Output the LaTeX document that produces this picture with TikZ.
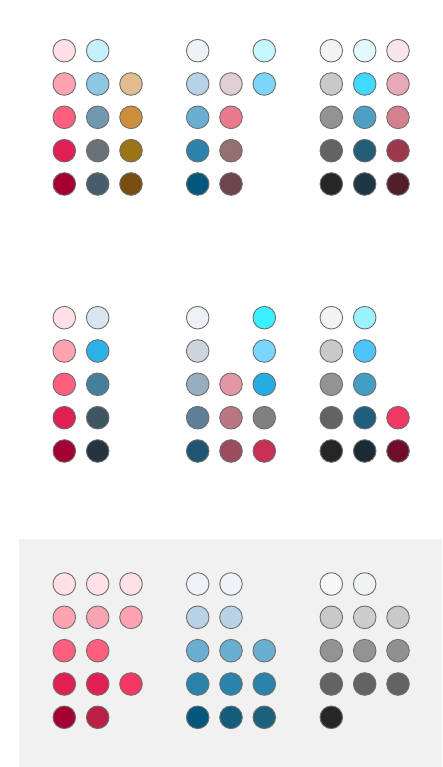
\documentclass[tikz,border=0pt]{standalone}
\usetikzlibrary{positioning}
\tikzset{
  dotc/.style={circle, draw=dotline, line width=0.9pt, minimum size=22.6pt, inner sep=0pt},
}
\definecolor{dotline}{HTML}{6E6E6E}
\definecolor{panelbg}{HTML}{F1F1F1}
\newcommand\D[4]{\definecolor{col#1}{HTML}{#4}\node[dotc, fill=col#1] (#1) at (#2,#3) {};}
\begin{document}
\begin{tikzpicture}[x=1pt,y=-1pt]
\useasboundingbox (0,0) rectangle (442,767);
\fill[panelbg] (19,539) rectangle (442,767);
% ---------- Panel 1 ----------
% group 1
\D{a11}{64.3}{50.7}{FFE0E6}\D{a12}{64.3}{84}{FFA3B1}\D{a13}{64.3}{117.3}{FF5E7E}\D{a14}{64.3}{150.7}{E01F52}\D{a15}{64.3}{184}{A50034}
\D{a21}{97.7}{50.7}{C7F0FF}\D{a22}{97.7}{84}{8CC7E6}\D{a23}{97.7}{117.3}{7199AE}\D{a24}{97.7}{150.7}{6A7178}\D{a25}{97.7}{184}{475D6B}
\D{a32}{131}{84}{E0BC8E}\D{a33}{131}{117.3}{CD8F3D}\D{a34}{131}{150.7}{9A7415}\D{a35}{131}{184}{7A4D10}
% group 2
\D{b11}{197.7}{50.7}{EEF3F8}\D{b12}{197.7}{84}{B8D3E6}\D{b13}{197.7}{117.3}{6AAFD2}\D{b14}{197.7}{150.7}{2D82AB}\D{b15}{197.7}{184}{04577A}
\D{b22}{231}{84}{E0CFD3}\D{b23}{231}{117.3}{EC7A8E}\D{b24}{231}{150.7}{947073}\D{b25}{231}{184}{6E454A}
\D{b31}{264.3}{50.7}{C7F7FE}\D{b32}{264.3}{84}{7CD7FB}
% group 3
\D{c11}{331.3}{50.7}{F3F3F3}\D{c12}{331.3}{84}{C9C9C9}\D{c13}{331.3}{117.3}{939393}\D{c14}{331.3}{150.7}{636363}\D{c15}{331.3}{184}{262626}
\D{c21}{364.7}{50.7}{E2F9FF}\D{c22}{364.7}{84}{40DAFF}\D{c23}{364.7}{117.3}{4F9EC4}\D{c24}{364.7}{150.7}{245D77}\D{c25}{364.7}{184}{1D3744}
\D{c31}{398}{50.7}{F8E6EA}\D{c32}{398}{84}{E7A9B5}\D{c33}{398}{117.3}{D4808E}\D{c34}{398}{150.7}{9C384C}\D{c35}{398}{184}{521F28}
% ---------- Panel 2 ----------
\D{d11}{64.3}{317.7}{FFE0E6}\D{d12}{64.3}{351}{FFA3B1}\D{d13}{64.3}{384.3}{FF5E7E}\D{d14}{64.3}{417.7}{E01F52}\D{d15}{64.3}{451}{A50034}
\D{d21}{97.7}{317.7}{D9E6F1}\D{d22}{97.7}{351}{2DB2E8}\D{d23}{97.7}{384.3}{457F9C}\D{d24}{97.7}{417.7}{3E5562}\D{d25}{97.7}{451}{26343E}
\D{e11}{197.7}{317.7}{EDF1F5}\D{e12}{197.7}{351}{CCD4DD}\D{e13}{197.7}{384.3}{98ADBE}\D{e14}{197.7}{417.7}{5E7F95}\D{e15}{197.7}{451}{1F5573}
\D{e23}{231}{384.3}{E397A3}\D{e24}{231}{417.7}{BA7782}\D{e25}{231}{451}{9A4E5D}
\D{e31}{264.3}{317.7}{39F1FF}\D{e32}{264.3}{351}{79D6FF}\D{e33}{264.3}{384.3}{24ACE3}\D{e34}{264.3}{417.7}{808080}\D{e35}{264.3}{451}{C83056}
\D{f11}{331.3}{317.7}{F3F3F3}\D{f12}{331.3}{351}{C9C9C9}\D{f13}{331.3}{384.3}{939393}\D{f14}{331.3}{417.7}{636363}\D{f15}{331.3}{451}{262626}
\D{f21}{364.7}{317.7}{9AF4FF}\D{f22}{364.7}{351}{4CC6FA}\D{f23}{364.7}{384.3}{449DC5}\D{f24}{364.7}{417.7}{1F5E7C}\D{f25}{364.7}{451}{1B2B35}
\D{f34}{398}{417.7}{F03864}\D{f35}{398}{451}{700D28}
% ---------- Panel 3 ----------
\D{g11}{64.3}{584}{FFE0E6}\D{g12}{64.3}{617.3}{FFA3B1}\D{g13}{64.3}{650.7}{FF5E7E}\D{g14}{64.3}{684}{E01F52}\D{g15}{64.3}{717.3}{A50034}
\D{g21}{97.7}{584}{FFE2E8}\D{g22}{97.7}{617.3}{F7A5B2}\D{g23}{97.7}{650.7}{FF5E7E}\D{g24}{97.7}{684}{E01F52}\D{g25}{97.7}{717.3}{BA1F44}
\D{g31}{131}{584}{FBE1E5}\D{g32}{131}{617.3}{FFA2B2}\D{g34}{131}{684}{F43863}
\D{h11}{197.7}{584}{EDF3F8}\D{h12}{197.7}{617.3}{B8D3E6}\D{h13}{197.7}{650.7}{6AAFD2}\D{h14}{197.7}{684}{2A83AB}\D{h15}{197.7}{717.3}{04577A}
\D{h21}{231}{584}{EDF3F8}\D{h22}{231}{617.3}{B8D3E6}\D{h23}{231}{650.7}{6AAFD2}\D{h24}{231}{684}{2A83AB}\D{h25}{231}{717.3}{145C7B}
\D{h33}{264.3}{650.7}{6AAFD2}\D{h34}{264.3}{684}{2A83AB}\D{h35}{264.3}{717.3}{1B617D}
\D{i11}{331.3}{584}{F7F7F7}\D{i12}{331.3}{617.3}{C9C9C9}\D{i13}{331.3}{650.7}{939393}\D{i14}{331.3}{684}{636363}\D{i15}{331.3}{717.3}{262626}
\D{i21}{364.7}{584}{F0F3F3}\D{i22}{364.7}{617.3}{CCCDCF}\D{i23}{364.7}{650.7}{939393}\D{i24}{364.7}{684}{636363}
\D{i32}{398}{617.3}{C9C9C9}\D{i33}{398}{650.7}{8E9091}\D{i34}{398}{684}{636363}
\end{tikzpicture}
\end{document}
